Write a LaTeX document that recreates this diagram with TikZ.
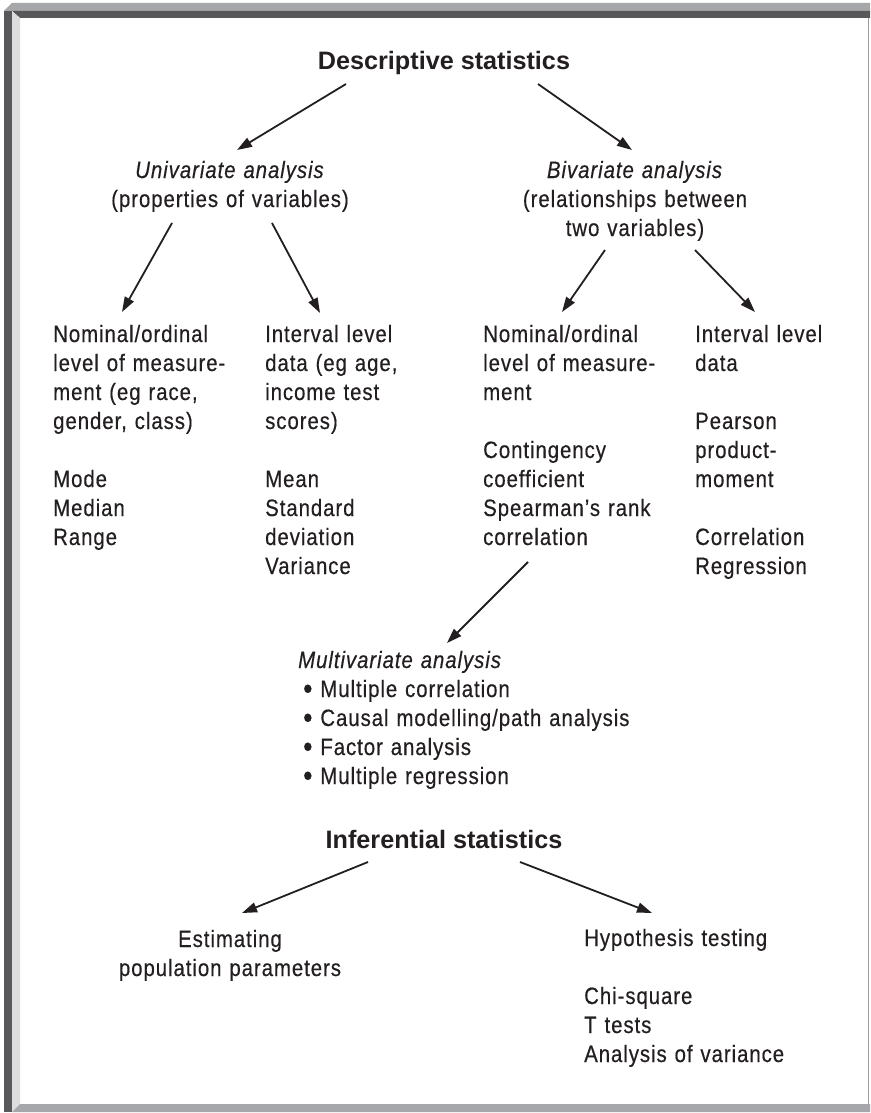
\documentclass[tikz,border=0pt]{standalone}
\usepackage{fontspec}
\usepackage{graphicx}
\usetikzlibrary{arrows.meta}
\newfontfamily\condfont[FakeStretch=0.86,LetterSpace=4,FakeBold=0.4]{Liberation Sans}
\newfontfamily\headfont{Liberation Sans}
\newcommand\listdot{\raisebox{-2pt}{\scalebox{1.3}{•}}\ }
\definecolor{ink}{HTML}{231F20}
\definecolor{frameMid}{HTML}{A6A7AA}
\definecolor{frameDark}{HTML}{58585A}
\definecolor{frameLight}{HTML}{DCDDDF}
\definecolor{frameLine}{HTML}{9C9C9E}
\begin{document}
\begin{tikzpicture}[x=1pt,y=-1pt,
  body/.style={font=\condfont\fontsize{23.7}{29}\selectfont, text=ink,
    inner sep=0pt, text width=420pt, align=left, anchor=base west},
  centred/.style={body, text width=300pt, align=center, anchor=base},
  heading/.style={font=\headfont\bfseries\fontsize{25.2}{30}\selectfont,
    text=ink, inner sep=0pt, anchor=base},
  arr/.style={draw=ink, line width=1.8pt, -{Triangle[length=15pt,width=10pt]}}]

% page and bevelled frame
\useasboundingbox (0,0) rectangle (870,1113);
\fill[white] (0,0) rectangle (870,1113);
\fill[frameMid]   (4,11) -- (12,3) -- (870,3) -- (870,11) -- cycle;
\fill[frameDark]  (12,11) -- (870,11) -- (870,18) -- (20,18) -- cycle;
\fill[frameDark]  (4,11) -- (12,11) -- (12,1112) -- (4,1112) -- cycle;
\fill[frameLight] (12,11) -- (20,18) -- (20,1104) -- (12,1112) -- cycle;
\fill[frameMid]   (12,1112) -- (20,1104) -- (870,1104) -- (870,1112) -- cycle;
\draw[frameLine, line width=1.2pt] (868.6,18) -- (868.6,1104);

% descriptive statistics
\node[heading] (desc) at (444,70) {Descriptive statistics};
\node[centred] (uni) at (230,178) {\textit{Univariate analysis}\\(properties of variables)};
\node[centred] (biv) at (635,178) {\textit{Bivariate analysis}\\(relationships between\\two variables)};

\node[body] (colA) at (53,342) {Nominal/ordinal\\level of measure-\\ment (eg race,\\gender, class)\\[29pt]Mode\\Median\\Range};
\node[body] (colB) at (265,342) {Interval level\\data (eg age,\\income test\\scores)\\[29pt]Mean\\Standard\\deviation\\Variance};
\node[body] (colC) at (483,342) {Nominal/ordinal\\level of measure-\\ment\\[29pt]Contingency\\coefficient\\Spearman’s rank\\correlation};
\node[body] (colD) at (695,342) {Interval level\\data\\[29pt]Pearson\\product-\\moment\\[29pt]Correlation\\Regression};

\node[body] (multi) at (298,668) {\textit{Multivariate analysis}};
\node[body] (list) at (303,697) {\listdot Multiple correlation\\\listdot Causal modelling/path analysis\\\listdot Factor analysis\\\listdot Multiple regression};

% inferential statistics
\node[heading] (inf) at (444,848) {Inferential statistics};
\node[centred] (est) at (230,947) {Estimating\\population parameters};
\node[body] (hyp) at (584,946) {Hypothesis testing\\[29pt]Chi-square\\T tests\\Analysis of variance};

% connectors
\draw[arr] ([shift={(-98,14)}]desc.base) -- ([shift={(7,-28)}]uni.base);
\draw[arr] ([shift={(94,14)}]desc.base) -- ([shift={(-3,-28)}]biv.base);
\draw[arr] ([shift={(-58,45)}]uni.base) -- ([shift={(69,-30)}]colA.base west);
\draw[arr] ([shift={(42,45)}]uni.base) -- ([shift={(55,-29)}]colB.base west);
\draw[arr] ([shift={(-30,72)}]biv.base) -- ([shift={(79,-30)}]colC.base west);
\draw[arr] ([shift={(60,72)}]biv.base) -- ([shift={(60,-30)}]colD.base west);
\draw[arr] ([shift={(45,220)}]colC.base west) -- ([shift={(149,-25)}]multi.base west);
\draw[arr] ([shift={(-76,14)}]inf.base) -- ([shift={(12,-34)}]est.base);
\draw[arr] ([shift={(76,14)}]inf.base) -- ([shift={(68,-33)}]hyp.base west);
\end{tikzpicture}
\end{document}
